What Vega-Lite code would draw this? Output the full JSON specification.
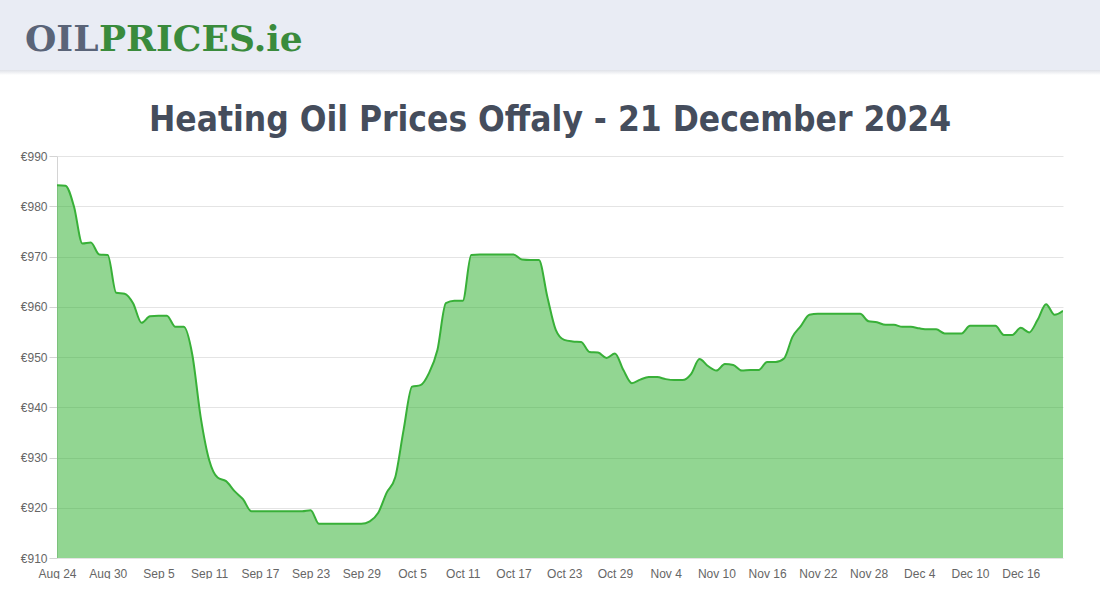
{
  "$schema": "https://vega.github.io/schema/vega-lite/v6.json",
  "padding": 0,
  "background": "#ffffff",
  "spacing": 28,
  "config": {
    "view": {"stroke": null},
    "axis": {"labelFont": "Liberation Sans", "labelFontSize": 12, "labelColor": "#666666", "titleFont": "Liberation Sans"}
  },
  "vconcat": [
    {
      "width": 1043,
      "height": 70,
      "data": {"values": [{"brand": "OIL", "part": 1}, {"brand": "PRICES.ie", "part": 2}]},
      "encoding": {
        "x": {"datum": 0, "type": "quantitative", "scale": {"domain": [0, 1043], "nice": false, "zero": false}, "axis": null},
        "y": {"datum": 0, "type": "quantitative", "scale": {"domain": [70, 0], "nice": false, "zero": false}, "axis": null}
      },
      "layer": [
        {
          "transform": [{"filter": "datum.part == 1"}],
          "mark": {"type": "rect", "color": {"gradient": "linear", "x1": 0, "y1": 0, "x2": 0, "y2": 1, "stops": [{"offset": 0, "color": "#d9dce3"}, {"offset": 1, "color": "#ffffff"}]}, "clip": false},
          "encoding": {
            "x": {"datum": -57, "type": "quantitative"},
            "x2": {"datum": 1043},
            "y": {"datum": 69, "type": "quantitative"},
            "y2": {"datum": 75}
          }
        },
        {
          "transform": [{"filter": "datum.part == 1"}],
          "mark": {"type": "rect", "color": "#e9ecf4", "clip": false},
          "encoding": {
            "x": {"datum": -57, "type": "quantitative"},
            "x2": {"datum": 1043},
            "y": {"datum": 0, "type": "quantitative"},
            "y2": {"datum": 70}
          }
        },
        {
          "transform": [{"filter": "datum.part == 1"}],
          "mark": {"type": "text", "font": "DejaVu Serif", "fontWeight": "bold", "fontSize": 36, "color": "#5a6478", "align": "left", "baseline": "alphabetic", "clip": false},
          "encoding": {
            "x": {"datum": -32, "type": "quantitative"},
            "y": {"datum": 51, "type": "quantitative"},
            "text": {"field": "brand"}
          }
        },
        {
          "transform": [{"filter": "datum.part == 2"}],
          "mark": {"type": "text", "font": "DejaVu Serif", "fontWeight": "bold", "fontSize": 36, "color": "#3a8b3c", "align": "left", "baseline": "alphabetic", "clip": false},
          "encoding": {
            "x": {"datum": 42, "type": "quantitative"},
            "y": {"datum": 51, "type": "quantitative"},
            "text": {"field": "brand"}
          }
        }
      ]
    },
    {
      "width": 1006,
      "height": 402,
      "title": {"text": "Heating Oil Prices Offaly - 21 December 2024", "font": "DejaVu Sans Condensed", "fontWeight": "bold", "fontSize": 35, "color": "#454d5c", "anchor": "middle", "baseline": "alphabetic", "offset": -16, "dx": -10},
      "data": {"values": [
        {"date": "2024-08-24", "price": 984.2}, {"date": "2024-08-25", "price": 984.1}, {"date": "2024-08-26", "price": 980.0}, {"date": "2024-08-27", "price": 972.6},
        {"date": "2024-08-28", "price": 972.8}, {"date": "2024-08-29", "price": 970.4}, {"date": "2024-08-30", "price": 970.3}, {"date": "2024-08-31", "price": 962.8},
        {"date": "2024-09-01", "price": 962.6}, {"date": "2024-09-02", "price": 960.7}, {"date": "2024-09-03", "price": 956.8}, {"date": "2024-09-04", "price": 958.1},
        {"date": "2024-09-05", "price": 958.2}, {"date": "2024-09-06", "price": 958.2}, {"date": "2024-09-07", "price": 956.0}, {"date": "2024-09-08", "price": 956.0},
        {"date": "2024-09-09", "price": 950.5}, {"date": "2024-09-10", "price": 938.0}, {"date": "2024-09-11", "price": 929.5}, {"date": "2024-09-12", "price": 926.0},
        {"date": "2024-09-13", "price": 925.3}, {"date": "2024-09-14", "price": 923.3}, {"date": "2024-09-15", "price": 921.7}, {"date": "2024-09-16", "price": 919.3},
        {"date": "2024-09-17", "price": 919.3}, {"date": "2024-09-18", "price": 919.3}, {"date": "2024-09-19", "price": 919.3}, {"date": "2024-09-20", "price": 919.3},
        {"date": "2024-09-21", "price": 919.3}, {"date": "2024-09-22", "price": 919.3}, {"date": "2024-09-23", "price": 919.5}, {"date": "2024-09-24", "price": 916.8},
        {"date": "2024-09-25", "price": 916.8}, {"date": "2024-09-26", "price": 916.8}, {"date": "2024-09-27", "price": 916.8}, {"date": "2024-09-28", "price": 916.8},
        {"date": "2024-09-29", "price": 916.8}, {"date": "2024-09-30", "price": 917.3}, {"date": "2024-10-01", "price": 919.0}, {"date": "2024-10-02", "price": 923.0},
        {"date": "2024-10-03", "price": 926.0}, {"date": "2024-10-04", "price": 935.5}, {"date": "2024-10-05", "price": 944.1}, {"date": "2024-10-06", "price": 944.4},
        {"date": "2024-10-07", "price": 946.8}, {"date": "2024-10-08", "price": 951.4}, {"date": "2024-10-09", "price": 960.7}, {"date": "2024-10-10", "price": 961.2},
        {"date": "2024-10-11", "price": 961.2}, {"date": "2024-10-12", "price": 970.3}, {"date": "2024-10-13", "price": 970.4}, {"date": "2024-10-14", "price": 970.4},
        {"date": "2024-10-15", "price": 970.4}, {"date": "2024-10-16", "price": 970.4}, {"date": "2024-10-17", "price": 970.4}, {"date": "2024-10-18", "price": 969.4},
        {"date": "2024-10-19", "price": 969.3}, {"date": "2024-10-20", "price": 969.3}, {"date": "2024-10-21", "price": 962.0}, {"date": "2024-10-22", "price": 955.4},
        {"date": "2024-10-23", "price": 953.4}, {"date": "2024-10-24", "price": 953.1}, {"date": "2024-10-25", "price": 953.0}, {"date": "2024-10-26", "price": 951.0},
        {"date": "2024-10-27", "price": 950.9}, {"date": "2024-10-28", "price": 949.8}, {"date": "2024-10-29", "price": 950.7}, {"date": "2024-10-30", "price": 947.4},
        {"date": "2024-10-31", "price": 944.8}, {"date": "2024-11-01", "price": 945.5}, {"date": "2024-11-02", "price": 946.0}, {"date": "2024-11-03", "price": 946.0},
        {"date": "2024-11-04", "price": 945.6}, {"date": "2024-11-05", "price": 945.4}, {"date": "2024-11-06", "price": 945.4}, {"date": "2024-11-07", "price": 946.6},
        {"date": "2024-11-08", "price": 949.6}, {"date": "2024-11-09", "price": 948.2}, {"date": "2024-11-10", "price": 947.3}, {"date": "2024-11-11", "price": 948.6},
        {"date": "2024-11-12", "price": 948.4}, {"date": "2024-11-13", "price": 947.3}, {"date": "2024-11-14", "price": 947.4}, {"date": "2024-11-15", "price": 947.4},
        {"date": "2024-11-16", "price": 949.0}, {"date": "2024-11-17", "price": 949.0}, {"date": "2024-11-18", "price": 949.7}, {"date": "2024-11-19", "price": 954.0},
        {"date": "2024-11-20", "price": 956.2}, {"date": "2024-11-21", "price": 958.4}, {"date": "2024-11-22", "price": 958.6}, {"date": "2024-11-23", "price": 958.6},
        {"date": "2024-11-24", "price": 958.6}, {"date": "2024-11-25", "price": 958.6}, {"date": "2024-11-26", "price": 958.6}, {"date": "2024-11-27", "price": 958.6},
        {"date": "2024-11-28", "price": 957.1}, {"date": "2024-11-29", "price": 956.9}, {"date": "2024-11-30", "price": 956.4}, {"date": "2024-12-01", "price": 956.4},
        {"date": "2024-12-02", "price": 956.0}, {"date": "2024-12-03", "price": 956.0}, {"date": "2024-12-04", "price": 955.7}, {"date": "2024-12-05", "price": 955.5},
        {"date": "2024-12-06", "price": 955.5}, {"date": "2024-12-07", "price": 954.7}, {"date": "2024-12-08", "price": 954.7}, {"date": "2024-12-09", "price": 954.7},
        {"date": "2024-12-10", "price": 956.2}, {"date": "2024-12-11", "price": 956.2}, {"date": "2024-12-12", "price": 956.2}, {"date": "2024-12-13", "price": 956.2},
        {"date": "2024-12-14", "price": 954.4}, {"date": "2024-12-15", "price": 954.4}, {"date": "2024-12-16", "price": 955.8}, {"date": "2024-12-17", "price": 954.9},
        {"date": "2024-12-18", "price": 957.4}, {"date": "2024-12-19", "price": 960.5}, {"date": "2024-12-20", "price": 958.4}, {"date": "2024-12-21", "price": 959.2}
      ]},
      "encoding": {
        "x": {
          "field": "date", "type": "temporal",
          "scale": {"type": "utc", "nice": false},
          "axis": {
            "title": null, "format": "%b %-d", "grid": false, "domain": false, "ticks": false, "labelPadding": 10, "labelFlush": false, "labelOverlap": false,
            "values": [
              {"year": 2024, "month": 8, "date": 24, "utc": true}, {"year": 2024, "month": 8, "date": 30, "utc": true},
              {"year": 2024, "month": 9, "date": 5, "utc": true}, {"year": 2024, "month": 9, "date": 11, "utc": true},
              {"year": 2024, "month": 9, "date": 17, "utc": true}, {"year": 2024, "month": 9, "date": 23, "utc": true},
              {"year": 2024, "month": 9, "date": 29, "utc": true}, {"year": 2024, "month": 10, "date": 5, "utc": true},
              {"year": 2024, "month": 10, "date": 11, "utc": true}, {"year": 2024, "month": 10, "date": 17, "utc": true},
              {"year": 2024, "month": 10, "date": 23, "utc": true}, {"year": 2024, "month": 10, "date": 29, "utc": true},
              {"year": 2024, "month": 11, "date": 4, "utc": true}, {"year": 2024, "month": 11, "date": 10, "utc": true},
              {"year": 2024, "month": 11, "date": 16, "utc": true}, {"year": 2024, "month": 11, "date": 22, "utc": true},
              {"year": 2024, "month": 11, "date": 28, "utc": true}, {"year": 2024, "month": 12, "date": 4, "utc": true},
              {"year": 2024, "month": 12, "date": 10, "utc": true}, {"year": 2024, "month": 12, "date": 16, "utc": true}
            ]
          }
        },
        "y": {
          "field": "price", "type": "quantitative",
          "scale": {"domain": [910, 990], "zero": false, "nice": false},
          "axis": {
            "title": null, "values": [910, 920, 930, 940, 950, 960, 970, 980, 990], "labelExpr": "'€' + datum.value",
            "gridColor": "#e4e4e4", "domainColor": "#d4d4d4", "tickColor": "#d4d4d4", "tickSize": 8, "labelPadding": 2, "minExtent": 57
          }
        }
      },
      "layer": [
        {"mark": {"type": "area", "interpolate": "monotone", "color": "#25ad25", "fillOpacity": 0.5, "clip": true}},
        {"mark": {"type": "line", "interpolate": "monotone", "color": "#38b038", "strokeWidth": 2, "clip": true}}
      ]
    }
  ]
}
